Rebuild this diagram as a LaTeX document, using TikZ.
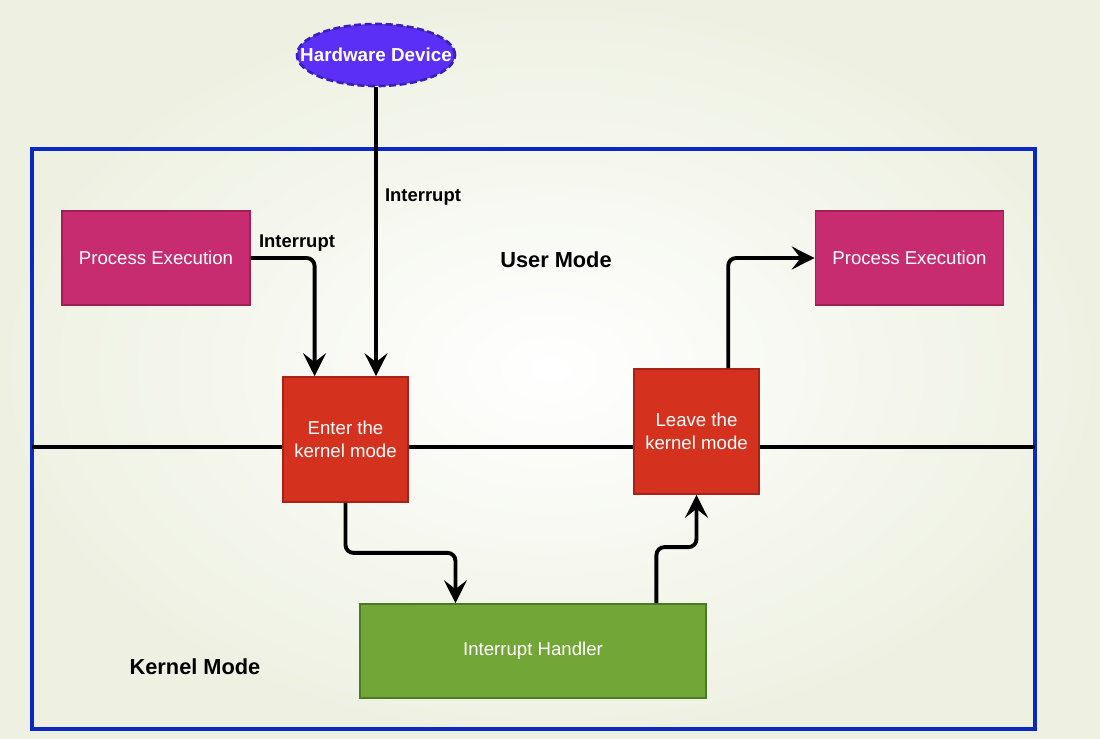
\documentclass[tikz,border=0pt]{standalone}
\usepackage{fontspec}
\setmainfont{Liberation Sans}
\usetikzlibrary{arrows.meta,calc,shapes.geometric}
\definecolor{procfill}{HTML}{C72C70}
\definecolor{procline}{HTML}{A01F55}
\definecolor{kernfill}{HTML}{D4321F}
\definecolor{kernline}{HTML}{A8221A}
\definecolor{handfill}{HTML}{72A637}
\definecolor{handline}{HTML}{4A7A23}
\definecolor{devfill}{HTML}{5B2FF5}
\definecolor{devline}{HTML}{3A1FC0}
\definecolor{modeline}{HTML}{0A28C2}
\definecolor{bgout}{HTML}{EEF1E2}
\tikzset{
  procbox/.style={draw=procline,fill=procfill,line width=1pt,text=white,
    minimum width=3.76cm,minimum height=1.88cm,font=\fontsize{10.6}{12.5}\selectfont},
  kernbox/.style={draw=kernline,fill=kernfill,line width=1pt,text=white,align=center,
    minimum width=2.5cm,minimum height=2.5cm,font=\fontsize{10.6}{12.8}\selectfont},
  flow/.style={line width=2.2pt,rounded corners=4.5pt,-{Stealth[length=13pt,width=13pt,inset=5pt]}},
  lbl/.style={font=\bfseries\fontsize{10.5}{12}\selectfont}
}
\begin{document}
\begin{tikzpicture}[x=0.02cm,y=-0.02cm]
\useasboundingbox (0,0) rectangle (1100,738);
\shade[inner color=white,outer color=bgout] (0,0) rectangle (1100,738);
% the two modes
\draw[modeline,line width=2pt] (32,149) rectangle (1035,729);
\coordinate (mL) at (32,447);
\coordinate (mR) at (1035,447);
\draw[line width=1.8pt] (mL) -- (mR);
\node[font=\bfseries\fontsize{12.4}{14}\selectfont] (user) at (556,260) {User Mode};
\node[font=\bfseries\fontsize{12.4}{14}\selectfont] (kern) at (195,667) {Kernel Mode};
% boxes
\node[ellipse,draw=devline,fill=devfill,line width=1.5pt,dash pattern=on 4pt off 2pt,
  minimum width=3.16cm,minimum height=1.24cm,inner sep=0pt] (dev) at (376,55) {};
\node[text=white,font=\bfseries\fontsize{10.7}{12}\selectfont] (devtxt) at (dev.center) {Hardware Device};
\node[procbox] (pL) at (156,258) {Process Execution};
\node[procbox] (pR) at (909.5,258) {Process Execution};
\node[kernbox] (enter) at (345.5,439.5) {Enter the\\kernel mode};
\node[kernbox] (leave) at (696.5,431.5) {Leave the\\kernel mode};
\node[draw=handline,fill=handfill,line width=1pt,text=white,
  minimum width=6.92cm,minimum height=1.88cm,
  font=\fontsize{10.6}{12.5}\selectfont] (hand) at (533,651) {Interrupt Handler};
% arrows
\draw[flow] (dev.south) -- (dev.south |- enter.north);
\node[lbl] (irqA) at (423,197) {Interrupt};
\draw[flow] (pL.east) -| ($(enter.north west)!0.256!(enter.north east)$);
\node[lbl] (irqB) at (297,243) {Interrupt};
\draw[flow] (enter.south) -- ++(0,50) -| ($(hand.north west)!0.277!(hand.north east)$);
\draw[flow] ($(hand.north west)!0.855!(hand.north east)$) -- ++(0,-56) -| (leave.south);
\draw[flow] ($(leave.north west)!0.75!(leave.north east)$) |- (pR.west);
\end{tikzpicture}
\end{document}
